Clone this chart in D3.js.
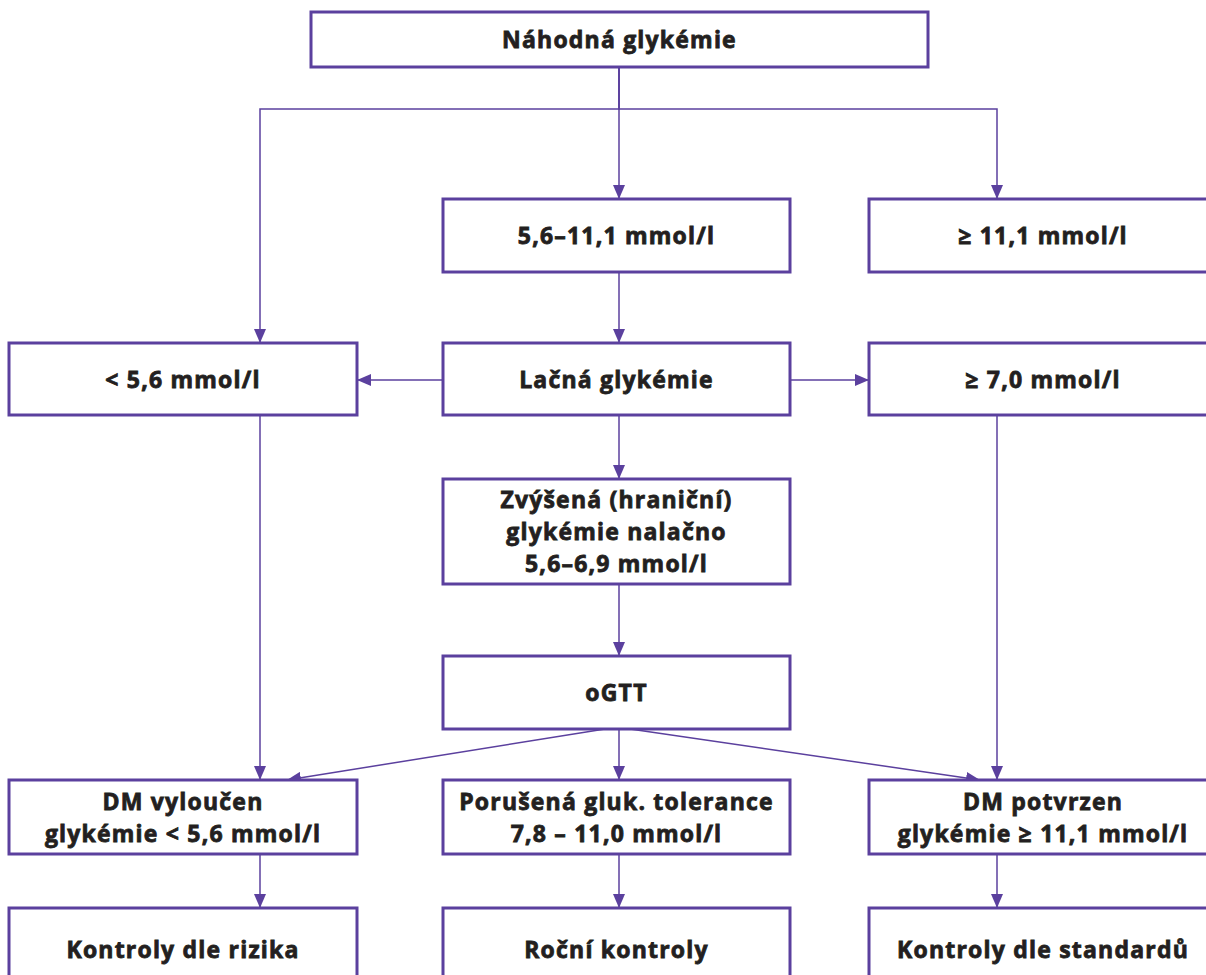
<!DOCTYPE html>
<html lang="cs">
<head>
  <meta charset="UTF-8">
  <title>Náhodná glykémie – diagnostický algoritmus</title>
  <script src="https://d3js.org/d3.v7.min.js"></script>
  <style>
    html, body { margin: 0; padding: 0; background: #fff; overflow: hidden; }
  </style>
</head>
<body>
  <div id="chart"></div>
  <script>
    // uzly diagramu
    const nodeIds = ["start", "mid1", "high1", "low2", "fast", "high2", "ifg", "ogtt",
      "excl", "igt", "conf", "ctrlRisk", "ctrlYear", "ctrlStd"];
    const nodeLabels = [
      ["Náhodná glykémie"],
      ["5,6–11,1 mmol/l"],
      ["≥ 11,1 mmol/l"],
      ["< 5,6 mmol/l"],
      ["Lačná glykémie"],
      ["≥ 7,0 mmol/l"],
      ["Zvýšená (hraniční)", "glykémie nalačno", "5,6–6,9 mmol/l"],
      ["oGTT"],
      ["DM vyloučen", "glykémie < 5,6 mmol/l"],
      ["Porušená gluk. tolerance", "7,8 – 11,0 mmol/l"],
      ["DM potvrzen", "glykémie ≥ 11,1 mmol/l"],
      ["Kontroly dle rizika"],
      ["Roční kontroly"],
      ["Kontroly dle standardů"]
    ];
    const nodeCols = ["top", "mid", "right", "left", "mid", "right", "mid", "mid",
      "left", "mid", "right", "left", "mid", "right"];
    const nodeRows = [0, 1, 1, 2, 2, 2, 3, 4, 5, 5, 5, 6, 6, 6];

    // šipky
    const edgeFrom = ["start", "start", "start", "mid1", "fast", "fast", "fast", "ifg",
      "ogtt", "ogtt", "ogtt", "low2", "high2", "excl", "igt", "conf"];
    const edgeTo = ["low2", "mid1", "high1", "fast", "low2", "high2", "ifg", "ogtt",
      "excl", "igt", "conf", "excl", "conf", "ctrlRisk", "ctrlYear", "ctrlStd"];

    // rozvržení
    const W = 1206, H = 975;
    const purple = "#5b409e";
    const rowKeys = [0, 1, 2, 3, 4, 5, 6];
    const rowTop = d3.scaleOrdinal().domain(rowKeys).range([12, 199, 343, 479, 656, 780, 908]);
    const rowBottom = d3.scaleOrdinal().domain(rowKeys).range([67, 272, 415, 584, 729, 854, 995]);
    const colKeys = ["top", "left", "mid", "right"];
    const colLeft = d3.scaleOrdinal().domain(colKeys).range([311, 9, 443, 869]);
    const colRight = d3.scaleOrdinal().domain(colKeys).range([928, 357, 790, 1217]);
    const colPort = d3.scaleOrdinal().domain(colKeys).range([619, 260, 619, 997]);
    const branchY = 109;

    const nodes = nodeIds.map((id, i) => ({
      id, lines: nodeLabels[i], col: nodeCols[i], row: nodeRows[i],
      x0: colLeft(nodeCols[i]), x1: colRight(nodeCols[i]),
      y0: rowTop(nodeRows[i]), y1: rowBottom(nodeRows[i])
    }));
    const byId = new Map(nodes.map(n => [n.id, n]));

    const svg = d3.select("#chart").append("svg")
      .attr("width", W).attr("height", H);

    svg.append("defs").append("marker")
      .attr("id", "arrow")
      .attr("markerUnits", "userSpaceOnUse")
      .attr("viewBox", "0 0 14 12")
      .attr("refX", 14).attr("refY", 6)
      .attr("markerWidth", 14).attr("markerHeight", 12)
      .attr("orient", "auto")
      .append("path")
      .attr("d", "M0,0 L14,6 L0,12 Z")
      .attr("fill", purple);

    // cesta šipky podle polohy uzlů
    function edgePath(a, b) {
      const p = d3.path();
      if (a.col === b.col) {
        const x = colPort(a.col);
        p.moveTo(x, a.y1); p.lineTo(x, b.y0);
      } else if (a.row === b.row) {
        const y = (a.y0 + a.y1) / 2 + 1;
        if (b.x0 > a.x1) { p.moveTo(a.x1, y); p.lineTo(b.x0, y); }
        else { p.moveTo(a.x0, y); p.lineTo(b.x1, y); }
      } else if (a.col === "top") {
        const x = colPort(b.col);
        p.moveTo(colPort(a.col), a.y1);
        p.lineTo(colPort(a.col), branchY);
        p.lineTo(x, branchY);
        p.lineTo(x, b.y0);
      } else {
        // šikmé šipky z oGTT
        const left = b.col === "left";
        p.moveTo(colPort(a.col) + (left ? -14 : 11), a.y1);
        p.lineTo(colPort(b.col) + (left ? 27 : -17), b.y0);
      }
      return p.toString();
    }

    svg.append("g").selectAll("path")
      .data(edgeFrom.map((f, i) => [byId.get(f), byId.get(edgeTo[i])]))
      .join("path")
      .attr("d", d => edgePath(d[0], d[1]))
      .attr("fill", "none")
      .attr("stroke", purple)
      .attr("stroke-width", 1.5)
      .attr("marker-end", "url(#arrow)");

    const g = svg.append("g").selectAll("g")
      .data(nodes)
      .join("g");

    g.append("rect")
      .attr("x", d => d.x0).attr("y", d => d.y0)
      .attr("width", d => d.x1 - d.x0).attr("height", d => d.y1 - d.y0)
      .attr("fill", "#fff")
      .attr("stroke", purple)
      .attr("stroke-width", 3);

    const lineH = 32;
    g.append("text")
      .attr("text-anchor", "middle")
      .attr("font-family", "'Open Sans', sans-serif")
      .attr("font-weight", 700)
      .attr("font-size", "23px")
      .attr("letter-spacing", "1.2px")
      .attr("fill", "#231f20")
      .attr("stroke", "#231f20")
      .attr("stroke-width", 0.8)
      .each(function (d) {
        const cx = (d.x0 + d.x1) / 2;
        const cy = (d.y0 + Math.min(d.y1, 990)) / 2;
        const first = cy + 8.5 - (d.lines.length - 1) * lineH / 2;
        d3.select(this).selectAll("tspan")
          .data(d.lines)
          .join("tspan")
          .attr("x", cx)
          .attr("y", (t, i) => first + i * lineH)
          .text(t => t);
      });
  </script>
</body>
</html>
